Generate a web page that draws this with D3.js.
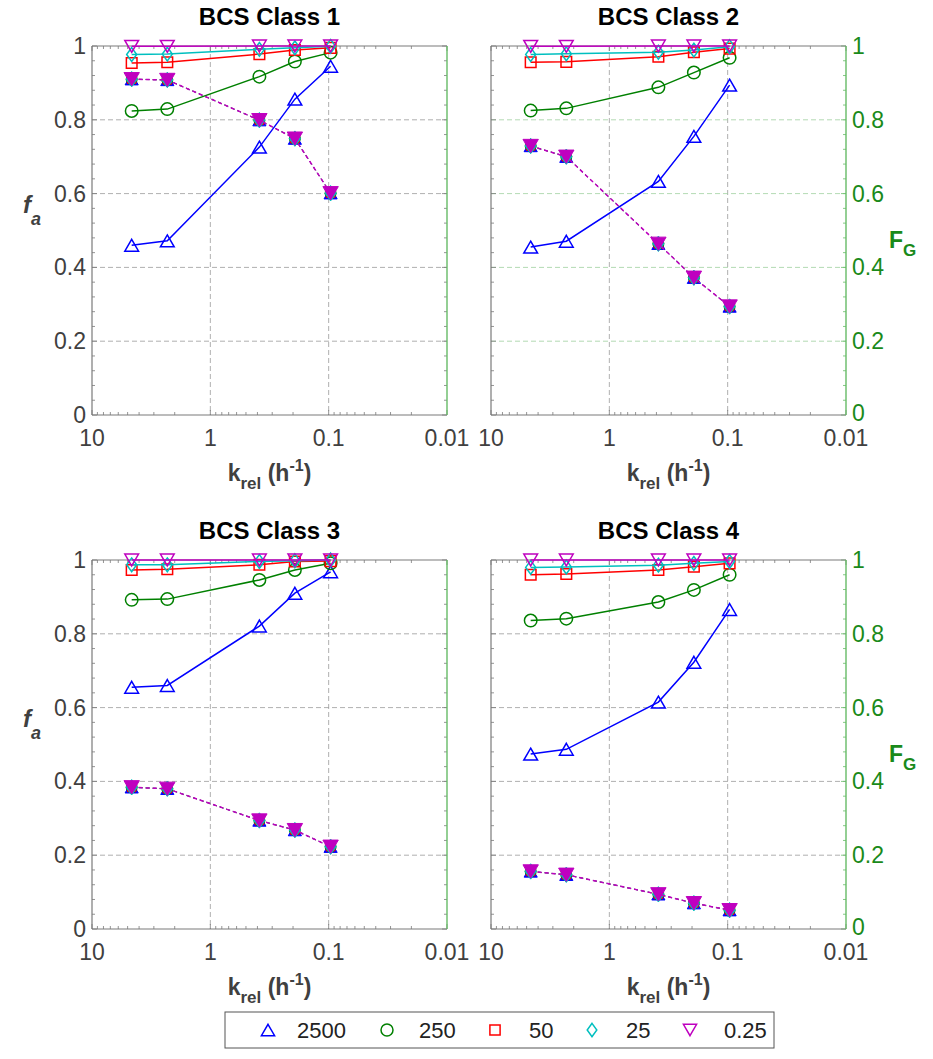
<!DOCTYPE html>
<html>
<head>
<meta charset="utf-8">
<script src="https://cdn.jsdelivr.net/npm/d3@7"></script>
<style>
  html, body { margin: 0; padding: 0; background: #fff; }
  svg { display: block; font-family: "Liberation Sans", Arial, sans-serif; }
</style>
</head>
<body>
<svg id="chart" width="933" height="1059"></svg>
<script>
// ---------------- DATA ----------------
const kValues = [4.62, 2.31, 0.385, 0.193, 0.0963];      // k_rel (1/h)
const doses = ["2500", "250", "50", "25", "0.25"];
const classTitles = ["BCS Class 1", "BCS Class 2", "BCS Class 3", "BCS Class 4"];
const xTickValues = [10, 1, 0.1, 0.01];
const xTickLabels = ["10", "1", "0.1", "0.01"];
const yTickValues = [0, 0.2, 0.4, 0.6, 0.8, 1];
const yTickLabels = ["0", "0.2", "0.4", "0.6", "0.8", "1"];

// f_a per dose (order = doses) for each class
const faClass1 = [
  [0.460, 0.472, 0.726, 0.856, 0.945],
  [0.824, 0.829, 0.917, 0.958, 0.982],
  [0.954, 0.956, 0.978, 0.989, 0.995],
  [0.977, 0.978, 0.991, 0.995, 0.999],
  [0.999, 0.999, 1.000, 1.000, 1.000]
];
const faClass2 = [
  [0.455, 0.471, 0.633, 0.755, 0.894],
  [0.825, 0.831, 0.888, 0.928, 0.968],
  [0.956, 0.957, 0.971, 0.983, 0.993],
  [0.977, 0.979, 0.983, 0.989, 0.998],
  [0.999, 0.999, 1.000, 1.000, 1.000]
];
const faClass3 = [
  [0.655, 0.660, 0.821, 0.910, 0.968],
  [0.892, 0.894, 0.946, 0.973, 0.991],
  [0.973, 0.975, 0.987, 0.996, 0.997],
  [0.987, 0.987, 0.996, 0.998, 1.000],
  [1.000, 1.000, 1.000, 1.000, 1.000]
];
const faClass4 = [
  [0.474, 0.487, 0.615, 0.723, 0.866],
  [0.836, 0.841, 0.886, 0.919, 0.960],
  [0.960, 0.962, 0.973, 0.982, 0.991],
  [0.980, 0.981, 0.986, 0.991, 0.996],
  [1.000, 1.000, 1.000, 1.000, 1.000]
];
// F_G (same for every dose – markers overlap)
const fgClass1 = [0.910, 0.908, 0.799, 0.749, 0.601];
const fgClass2 = [0.729, 0.700, 0.464, 0.372, 0.294];
const fgClass3 = [0.384, 0.380, 0.294, 0.268, 0.223];
const fgClass4 = [0.156, 0.147, 0.094, 0.070, 0.051];

const faAll = [faClass1, faClass2, faClass3, faClass4];
const fgAll = [fgClass1, fgClass2, fgClass3, fgClass4];

// ---------------- STYLE ----------------
const colors = ["#0000ff", "#008000", "#ff0000", "#00bfbf", "#bf00bf"];
const markerTypes = ["tri", "circle", "square", "diamond", "tridown"];
const filledSizes = [12, 11, 10, 14, 14];
const axisGray = "#404040";
const boxGray = "#7a7a7a";
const rightGreen = "#1a8a1a";
const rightLine = "#66bb66";

const panels = [
  {left: 92,  right: 447, top: 46,  bottom: 415, side: "left"},
  {left: 491, right: 846, top: 46,  bottom: 415, side: "right", greenGrid: true},
  {left: 92,  right: 447, top: 560, bottom: 929, side: "left"},
  {left: 491, right: 846, top: 560, bottom: 929, side: "right"}
];

const svg = d3.select("#chart");

function markerPath(type, s) {
  const p = d3.path();
  if (type === "tri") {
    const w = s * 1.1, h = s * 0.95;
    p.moveTo(0, -h/2); p.lineTo(w/2, h/2); p.lineTo(-w/2, h/2); p.closePath();
  } else if (type === "tridown") {
    const w = s * 1.1, h = s * 0.95;
    p.moveTo(0, h/2); p.lineTo(w/2, -h/2); p.lineTo(-w/2, -h/2); p.closePath();
  } else if (type === "circle") {
    p.arc(0, 0, s/2, 0, 2*Math.PI); p.closePath();
  } else if (type === "square") {
    const a = s * 0.85;
    p.rect(-a/2, -a/2, a, a);
  } else if (type === "diamond") {
    const w = s * 0.8, h = s * 1.1;
    p.moveTo(0, -h/2); p.lineTo(w/2, 0); p.lineTo(0, h/2); p.lineTo(-w/2, 0); p.closePath();
  }
  return p.toString();
}

// minor tick values
const xMinor = [];
[0.01, 0.1, 1].forEach(b => { for (let m = 2; m <= 9; m++) xMinor.push(b * m); });
const yMinor = d3.range(0, 1.0001, 0.04).filter(v => Math.abs(v * 5 - Math.round(v * 5)) > 1e-6);

panels.forEach((P, i) => {
  const x = d3.scaleLog().domain([10, 0.01]).range([P.left, P.right]);
  const y = d3.scaleLinear().domain([0, 1]).range([P.bottom, P.top]);
  const g = svg.append("g");

  // grid
  const gridColor = P.greenGrid ? "#9fd09f" : "#9a9a9a";
  g.selectAll(".gx").data([1, 0.1]).join("line")
    .attr("x1", d => x(d)).attr("x2", d => x(d))
    .attr("y1", P.top).attr("y2", P.bottom)
    .attr("stroke", "#9a9a9a").attr("stroke-width", 0.8).attr("stroke-dasharray", "5,3");
  g.selectAll(".gy").data([0.2, 0.4, 0.6, 0.8]).join("line")
    .attr("x1", P.left).attr("x2", P.right)
    .attr("y1", d => y(d)).attr("y2", d => y(d))
    .attr("stroke", gridColor).attr("stroke-width", 0.8).attr("stroke-dasharray", "5,3");

  // ticks (inside)
  const tick = (x1, y1, x2, y2, c) => g.append("line")
    .attr("x1", x1).attr("y1", y1).attr("x2", x2).attr("y2", y2)
    .attr("stroke", c).attr("stroke-width", 0.8);
  xTickValues.forEach(v => {
    tick(x(v), P.bottom, x(v), P.bottom - 5, boxGray);
    tick(x(v), P.top, x(v), P.top + 5, boxGray);
  });
  xMinor.forEach(v => {
    tick(x(v), P.bottom, x(v), P.bottom - 3, boxGray);
    tick(x(v), P.top, x(v), P.top + 3, boxGray);
  });
  const rightTickColor = P.side === "right" ? rightLine : boxGray;
  yTickValues.forEach(v => {
    tick(P.left, y(v), P.left + 5, y(v), boxGray);
    tick(P.right, y(v), P.right - 5, y(v), rightTickColor);
  });
  yMinor.forEach(v => {
    tick(P.left, y(v), P.left + 3, y(v), boxGray);
    tick(P.right, y(v), P.right - 3, y(v), rightTickColor);
  });

  // box
  g.append("line").attr("x1", P.left).attr("x2", P.right).attr("y1", P.bottom).attr("y2", P.bottom)
    .attr("stroke", boxGray).attr("stroke-width", 1.2);
  g.append("line").attr("x1", P.left).attr("x2", P.right).attr("y1", P.top).attr("y2", P.top)
    .attr("stroke", boxGray).attr("stroke-width", 1.2);
  g.append("line").attr("x1", P.left).attr("x2", P.left).attr("y1", P.top).attr("y2", P.bottom)
    .attr("stroke", boxGray).attr("stroke-width", 1.2);
  g.append("line").attr("x1", P.right).attr("x2", P.right).attr("y1", P.top).attr("y2", P.bottom)
    .attr("stroke", rightLine).attr("stroke-width", 1.4);

  // x tick labels
  g.selectAll(".xl").data(xTickValues).join("text")
    .attr("x", d => x(d)).attr("y", P.bottom + 31)
    .attr("text-anchor", "middle").attr("font-size", 23).attr("fill", axisGray)
    .text((d, j) => xTickLabels[j]);

  // y tick labels
  if (P.side === "left") {
    g.selectAll(".yl").data(yTickValues).join("text")
      .attr("x", P.left - 6).attr("y", d => y(d) + 8)
      .attr("text-anchor", "end").attr("font-size", 23).attr("fill", axisGray)
      .text((d, j) => yTickLabels[j]);
    const fa = g.append("text").attr("x", 23).attr("y", (P.top + P.bottom) / 2 - 18)
      .attr("font-size", 24).attr("font-weight", "bold").attr("font-style", "italic").attr("fill", axisGray);
    fa.append("tspan").text("f");
    fa.append("tspan").attr("font-size", 18).attr("dy", 12).text("a");
  } else {
    g.selectAll(".yl").data(yTickValues).join("text")
      .attr("x", P.right + 6).attr("y", d => y(d) + (d === 0 ? 6 : 8))
      .attr("text-anchor", "start").attr("font-size", 23).attr("fill", rightGreen)
      .text((d, j) => yTickLabels[j]);
    const fg = g.append("text").attr("x", 889).attr("y", (P.top + P.bottom) / 2 + 17)
      .attr("font-size", 23).attr("font-weight", "bold").attr("fill", rightGreen);
    fg.append("tspan").text("F");
    fg.append("tspan").attr("font-size", 17).attr("dy", 8).text("G");
  }

  // x axis label
  const xl = g.append("text").attr("x", (P.left + P.right) / 2).attr("y", P.bottom + 66)
    .attr("text-anchor", "middle").attr("font-size", 23).attr("font-weight", "bold").attr("fill", axisGray);
  xl.append("tspan").text("k");
  xl.append("tspan").attr("font-size", 17).attr("dy", 8).text("rel");
  xl.append("tspan").attr("dy", -8).text(" (h");
  xl.append("tspan").attr("font-size", 16).attr("dy", -10).text("-1");
  xl.append("tspan").attr("dy", 10).text(")");

  // title
  g.append("text").attr("x", (P.left + P.right) / 2).attr("y", P.top - 21)
    .attr("text-anchor", "middle").attr("font-size", 24).attr("font-weight", "bold").attr("fill", "#000")
    .text(classTitles[i]);

  // data
  const line = d3.line().x(d => x(d[0])).y(d => y(d[1]));
  const fa = faAll[i], fg = fgAll[i];
  fa.forEach((series, s) => {
    const pts = kValues.map((k, j) => [k, series[j]]);
    g.append("path").attr("d", line(pts)).attr("fill", "none")
      .attr("stroke", colors[s]).attr("stroke-width", 1.5);
    g.selectAll(null).data(pts).join("path")
      .attr("transform", d => `translate(${x(d[0])},${y(d[1])})`)
      .attr("d", markerPath(markerTypes[s], 12.5))
      .attr("fill", "none").attr("stroke", colors[s]).attr("stroke-width", 1.5);
  });
  doses.forEach((dose, s) => {
    const pts = kValues.map((k, j) => [k, fg[j]]);
    const top = s === doses.length - 1;
    g.append("path").attr("d", line(pts)).attr("fill", "none")
      .attr("stroke", colors[s]).attr("stroke-width", top ? 1.5 : 0.6)
      .attr("stroke-dasharray", "4,3");
    g.selectAll(null).data(pts).join("path")
      .attr("transform", d => `translate(${x(d[0])},${y(d[1])})`)
      .attr("d", markerPath(markerTypes[s], filledSizes[s]))
      .attr("fill", colors[s]).attr("stroke", colors[s]).attr("stroke-width", 1);
  });
});

// legend
const lg = svg.append("g");
lg.append("rect").attr("x", 225).attr("y", 1012).attr("width", 549).attr("height", 36)
  .attr("fill", "#fff").attr("stroke", "#555").attr("stroke-width", 1);
const legMarkerX = [268, 387, 495, 592, 690];
const legTextX = [297, 419, 529, 626, 724];
doses.forEach((d, s) => {
  lg.append("path").attr("transform", `translate(${legMarkerX[s]},1030)`)
    .attr("d", markerPath(markerTypes[s], 12))
    .attr("fill", "none").attr("stroke", colors[s]).attr("stroke-width", 1.5);
  lg.append("text").attr("x", legTextX[s]).attr("y", 1038)
    .attr("font-size", 22).attr("fill", "#222").text(d);
});
</script>
</body>
</html>
